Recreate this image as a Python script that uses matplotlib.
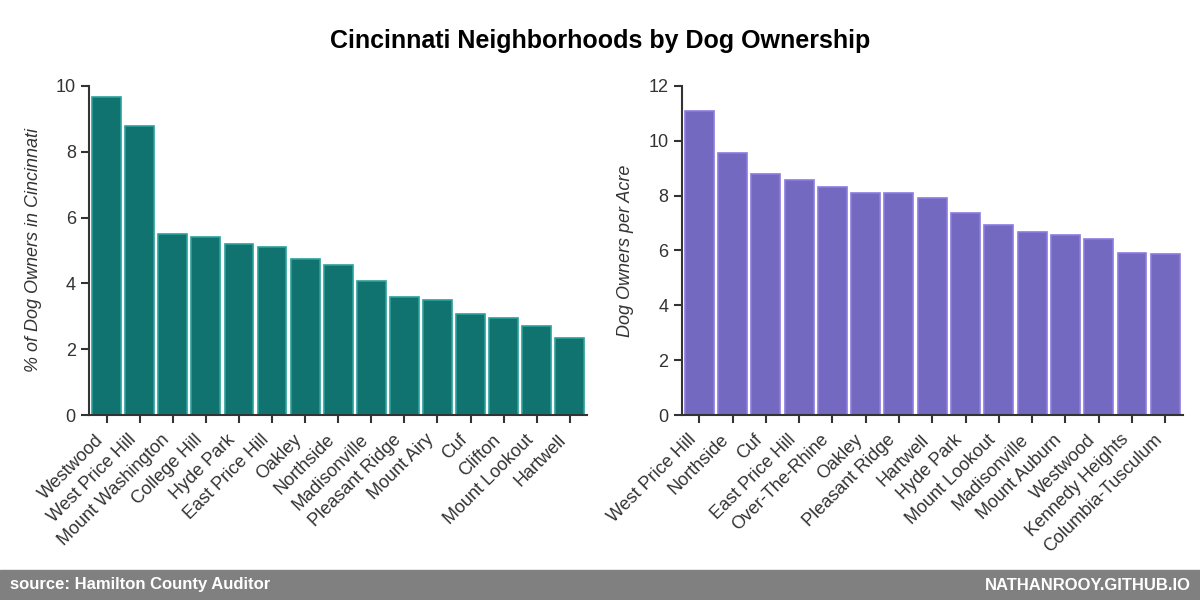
"""Cincinnati neighborhoods by dog ownership — two bar panels with footer band."""
import matplotlib
matplotlib.use("Agg")
import matplotlib.pyplot as plt
import numpy as np

plt.rcParams["font.family"] = ["Liberation Sans", "DejaVu Sans"]

# left panel: share of the city's dog owners
share_names = ["Westwood", "West Price Hill", "Mount Washington", "College Hill",
               "Hyde Park", "East Price Hill", "Oakley", "Northside", "Madisonville",
               "Pleasant Ridge", "Mount Airy", "Cuf", "Clifton", "Mount Lookout",
               "Hartwell"]
share_pct = [9.67, 8.79, 5.49, 5.40, 5.19, 5.10, 4.73, 4.55, 4.06, 3.58, 3.49,
             3.06, 2.94, 2.70, 2.34]

# right panel: density
density_names = ["West Price Hill", "Northside", "Cuf", "East Price Hill",
                 "Over-The-Rhine", "Oakley", "Pleasant Ridge", "Hartwell", "Hyde Park",
                 "Mount Lookout", "Madisonville", "Mount Auburn", "Westwood",
                 "Kennedy Heights", "Columbia-Tusculum"]
density_per_acre = [11.10, 9.54, 8.77, 8.56, 8.30, 8.08, 8.08, 7.90, 7.35, 6.92,
                    6.66, 6.55, 6.43, 5.92, 5.86]

INK = "#333333"


def bar_panel(ax, names, vals, face, edge, ylabel, ymax, step):
    x = np.arange(len(names))
    ax.bar(x, vals, width=0.87, color=face, edgecolor=edge, linewidth=1.2)
    ax.set_xlim(-0.53, len(names) - 0.48)
    ax.set_ylim(0, ymax)
    ax.set_yticks(np.arange(0, ymax + 0.1, step))
    ax.set_xticks(x)
    ax.set_xticklabels(names, rotation=45, ha="right", fontsize=13, color=INK)
    ax.tick_params(axis="y", labelsize=13, labelcolor=INK)
    ax.tick_params(axis="x", pad=5.5)
    ax.tick_params(direction="out", length=6, width=1.5, color=INK)
    ax.set_ylabel(ylabel, fontsize=13, style="italic", color=INK, labelpad=10)
    for s in ("top", "right"):
        ax.spines[s].set_visible(False)
    for s in ("left", "bottom"):
        ax.spines[s].set_color(INK)
        ax.spines[s].set_linewidth(1.5)


fig = plt.figure(figsize=(12, 6), dpi=100)
ax1 = fig.add_axes([0.0742, 0.308, 0.415, 0.549])
ax2 = fig.add_axes([0.568, 0.308, 0.4175, 0.549])

bar_panel(ax1, share_names, share_pct, "#117370", "#2aa19c",
          "% of Dog Owners in Cincinnati", 10, 2)
bar_panel(ax2, density_names, density_per_acre, "#7469c0", "#8b7be0",
          "Dog Owners per Acre", 12, 2)

fig.text(0.5, 0.932, "Cincinnati Neighborhoods by Dog Ownership",
         ha="center", va="center", fontsize=18, fontweight="bold", color="black")

# footer band
fig.patches.append(plt.Rectangle((0, 0), 1, 0.05, transform=fig.transFigure,
                                 color="#808080", zorder=0))
foot = ["Liberation Sans Narrow", "Liberation Sans", "DejaVu Sans"]
fig.text(0.008, 0.025, "source: Hamilton County Auditor", ha="left", va="center",
         fontsize=12, fontweight="bold", color="white", family=foot)
fig.text(0.992, 0.025, "NATHANROOY.GITHUB.IO", ha="right", va="center",
         fontsize=12, fontweight="bold", color="white", family=foot)

fig.savefig("out.png", dpi=100)
